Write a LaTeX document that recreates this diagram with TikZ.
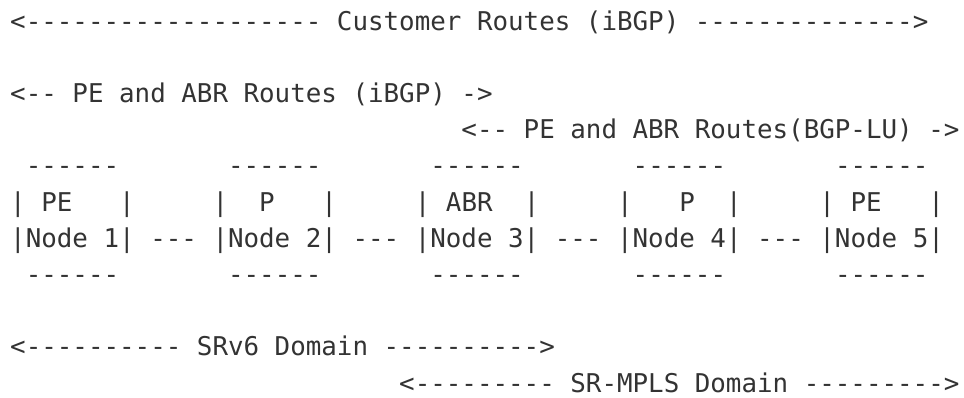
\documentclass[tikz,border=0pt]{standalone}
\usepackage{fontspec}
\setmonofont{DejaVu Sans Mono}
\definecolor{asciigray}{HTML}{333333}
\tikzset{
	ascii/.style={anchor=base west, inner sep=0pt, text=asciigray, font=\ttfamily\frenchspacing\fontsize{25.85pt}{36.2pt}\selectfont}
}

\begin{document}
\begin{tikzpicture}
	\useasboundingbox (0,0) rectangle (964pt,-397pt);
	\begin{scope}[shift={(10pt,-30pt)}, x=15.56pt, y=-36.2pt]
	%routes
	\node[ascii] (cust) at (0,0) {<------------------- Customer Routes (iBGP) -------------->};
	\node[ascii] (ibgp) at (0,2) {<-- PE and ABR Routes (iBGP) ->};
	\node[ascii] (bgplu) at (29,3) {<-- PE and ABR Routes(BGP-LU) ->};
	
	%nodes
	\node[ascii] (boxtop) at (1,4) {------~~~~~~~------~~~~~~~------~~~~~~~------~~~~~~~------};
	\node[ascii] (boxrole) at (0,5) {|~PE~~~|~~~~~|~~P~~~|~~~~~|~ABR~~|~~~~~|~~~P~~|~~~~~|~PE~~~|};
	\node[ascii] (boxname) at (0,6) {|Node 1| --- |Node 2| --- |Node 3| --- |Node 4| --- |Node 5|};
	\node[ascii] (boxbot) at (1,7) {------~~~~~~~------~~~~~~~------~~~~~~~------~~~~~~~------};
	
	%domains
	\node[ascii] (srv6) at (0,9) {<---------- SRv6 Domain ---------->};
	\node[ascii] (srmpls) at (25,10) {<--------- SR-MPLS Domain --------->};
	\end{scope}
\end{tikzpicture}
\end{document}
